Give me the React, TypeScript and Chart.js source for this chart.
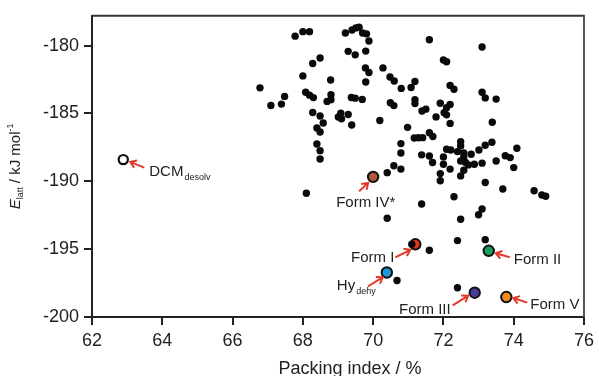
import React, { useEffect, useRef } from "react";
import { Chart, registerables } from "chart.js";

Chart.register(...registerables);

// Predicted structures (black dots): packing index (%) and lattice energy (kJ/mol)
const packingX = [
  66.78, 67.09, 67.39, 67.48, 67.78, 68.0, 68.19, 69.21, 69.4, 69.51, 69.6, 69.7, 69.81, 69.88, 71.6, 73.1,
  68.49, 68.28, 69.29, 69.49, 69.79, 72.0, 72.09, 68.0, 68.79, 69.78, 69.88, 69.79, 70.28, 70.48, 70.6, 70.8,
  71.08, 71.19, 72.19, 72.3, 73.1, 73.19, 73.5, 68.08, 68.19, 68.3, 68.8, 68.8, 68.69, 69.38, 69.49, 69.69,
  70.49, 70.59, 71.19, 71.19, 71.39, 71.5, 71.91, 72.19, 72.09, 72.02, 72.09, 71.79, 72.19, 73.39, 68.28, 68.49,
  68.58, 69.01, 69.1, 69.08, 69.29, 69.39, 70.19, 70.98, 68.4, 68.49, 71.17, 71.29, 71.41, 71.6, 71.7, 68.4,
  68.49, 68.49, 70.79, 70.79, 70.59, 70.79, 70.4, 72.49, 72.49, 72.09, 72.21, 72.4, 72.58, 72.58, 72.79, 73.01,
  73.19, 73.38, 74.09, 71.38, 71.6, 71.69, 72.0, 72.0, 72.49, 72.63, 72.71, 72.88, 73.1, 73.5, 73.76, 73.9,
  74.0, 72.19, 72.58, 72.49, 71.91, 71.91, 73.19, 73.69, 74.58, 74.8, 74.91, 71.38, 72.3, 73.1, 73.0, 72.49,
  68.1, 70.4, 72.4, 73.19, 71.1, 71.6, 70.68, 72.4,
];
const latticeY = [
  -183.11, -184.41, -184.31, -183.74, -179.3, -178.97, -178.97, -179.07, -178.85, -178.69, -178.64, -179.07, -179.13, -179.66, -179.56, -180.1,
  -180.91, -181.32, -180.42, -180.68, -180.4, -181.06, -181.19, -182.23, -182.53, -181.64, -181.98, -182.68, -181.64, -182.31, -182.61, -183.15,
  -183.08, -182.64, -182.93, -183.21, -183.43, -183.85, -183.94, -183.44, -183.65, -183.83, -183.61, -183.98, -184.11, -183.82, -183.87, -183.96,
  -184.21, -184.42, -183.98, -184.27, -184.82, -184.68, -184.24, -184.33, -184.58, -184.95, -185.1, -185.25, -185.73, -185.65, -184.93, -185.19,
  -185.7, -185.26, -185.39, -184.97, -185.07, -185.85, -185.52, -186.02, -186.07, -186.37, -186.81, -186.79, -186.78, -186.42, -186.7, -187.25,
  -187.74, -188.36, -187.22, -187.91, -188.85, -189.1, -189.36, -187.08, -187.39, -187.64, -187.69, -187.81, -187.91, -188.2, -188.0, -187.69,
  -187.34, -187.12, -187.56, -188.05, -188.13, -188.61, -188.2, -188.74, -188.5, -188.61, -188.79, -188.74, -188.66, -188.5, -188.11, -188.25,
  -188.99, -189.1, -189.18, -189.6, -189.43, -189.96, -190.09, -190.57, -190.7, -191.01, -191.1, -191.67, -191.14, -192.04, -192.46, -192.8,
  -190.88, -192.72, -194.37, -194.3, -194.64, -195.08, -197.31, -197.84,
];

// Experimental forms
const formNames = ["Form IV*", "Form I", "Form II", "Hy", "Form III", "Form V"];
const formSubs = ["", "", "", "dehy", "", ""];
const formX = [70.0, 71.2, 73.29, 70.39, 72.89, 73.79];
const formY = [-189.67, -194.64, -195.12, -196.72, -198.21, -198.53];

// Desolvated DCM solvate
const dcmName = "DCM";
const dcmSub = "desolv";
const dcmX = [62.89];
const dcmY = [-188.4];

const xTicks = [62, 64, 66, 68, 70, 72, 74, 76];
const yTicks = [-180, -185, -190, -195, -200];

const FONT = "'Liberation Sans', Arial, sans-serif";
const formColors = ["#b0573a", "#e4341f", "#14a05c", "#1c9ad6", "#4a3a9c", "#f58a1e"];
// label placement in pixels relative to the marker: [arrowHeadDx, headDy, tailDx, tailDy, textDx, textDy, align]
const formLabelPos: [number, number, number, number, number, number, string][] = [
  [-5, 6, -14, 14.5, -37, 30, "left"],
  [-5, 5.5, -20, 13, -21, 17.5, "right"],
  [7, 2.4, 21, 6.4, 25, 13, "left"],
  [-4, 4.7, -19, 14, -50, 18, "left"],
  [-6.5, 3, -22, 12.7, -24, 21, "right"],
  [7, 1, 21, 5.6, 24, 12.3, "left"],
];
const dcmLabelPos: [number, number, number, number, number, number, string] = [7, 2.3, 21, 8, 26, 16.5, "left"];

function drawArrow(ctx: CanvasRenderingContext2D, hx: number, hy: number, tx: number, ty: number) {
  const ang = Math.atan2(hy - ty, hx - tx);
  const len = 7;
  ctx.beginPath();
  ctx.moveTo(tx, ty);
  ctx.lineTo(hx, hy);
  ctx.moveTo(hx - len * Math.cos(ang - 0.6), hy - len * Math.sin(ang - 0.6));
  ctx.lineTo(hx, hy);
  ctx.lineTo(hx - len * Math.cos(ang + 0.6), hy - len * Math.sin(ang + 0.6));
  ctx.stroke();
}

function drawRich(ctx: CanvasRenderingContext2D, main: string, sub: string, x: number, y: number, align: string) {
  ctx.font = `15px ${FONT}`;
  const w1 = ctx.measureText(main).width;
  ctx.font = `9px ${FONT}`;
  const w2 = sub ? ctx.measureText(sub).width + 1 : 0;
  const start = align === "right" ? x - (w1 + w2) : x;
  ctx.textAlign = "left";
  ctx.textBaseline = "alphabetic";
  ctx.font = `15px ${FONT}`;
  ctx.fillText(main, start, y);
  if (sub) {
    ctx.font = `9px ${FONT}`;
    ctx.fillText(sub, start + w1 + 1, y + 4);
  }
}

const annotPlugin = {
  id: "annot",
  afterDatasetsDraw(chart: any) {
    const { ctx, chartArea: ca, scales } = chart;
    const xs = scales.x;
    const ys = scales.y;
    ctx.save();
    // frame
    ctx.lineWidth = 2;
    ctx.strokeStyle = "#333";
    ctx.beginPath();
    ctx.moveTo(ca.left, ca.top);
    ctx.lineTo(ca.right, ca.top);
    ctx.stroke();
    ctx.strokeStyle = "#555";
    ctx.beginPath();
    ctx.moveTo(ca.right, ca.top - 1);
    ctx.lineTo(ca.right, ca.bottom);
    ctx.stroke();

    // annotations
    ctx.strokeStyle = "#e0392a";
    ctx.lineWidth = 2;
    ctx.fillStyle = "#222";
    formNames.forEach((name, i) => {
      const px = xs.getPixelForValue(formX[i]);
      const py = ys.getPixelForValue(formY[i]);
      const p = formLabelPos[i];
      drawArrow(ctx, px + p[0], py + p[1], px + p[2], py + p[3]);
      drawRich(ctx, name, formSubs[i], px + p[4], py + p[5], p[6]);
    });
    {
      const px = xs.getPixelForValue(dcmX[0]);
      const py = ys.getPixelForValue(dcmY[0]);
      const p = dcmLabelPos;
      drawArrow(ctx, px + p[0], py + p[1], px + p[2], py + p[3]);
      drawRich(ctx, dcmName, dcmSub, px + p[4], py + p[5], p[6]);
    }

    // x axis title
    ctx.fillStyle = "#222";
    ctx.font = `18px ${FONT}`;
    ctx.textAlign = "center";
    ctx.textBaseline = "alphabetic";
    ctx.fillText("Packing index / %", (ca.left + ca.right) / 2 + 12, 374);

    // y axis title (rotated, with sub/superscripts)
    ctx.translate(19.5, (ca.top + ca.bottom) / 2);
    ctx.rotate(-Math.PI / 2);
    const parts = [
      { t: "E", f: `italic 15px ${FONT}`, dy: 0 },
      { t: "latt", f: `9px ${FONT}`, dy: 3.5 },
      { t: " / kJ mol", f: `15px ${FONT}`, dy: 0 },
      { t: "-1", f: `9px ${FONT}`, dy: -6.5 },
    ];
    let total = 0;
    const widths = parts.map((pt) => {
      ctx.font = pt.f;
      const w = ctx.measureText(pt.t).width;
      total += w;
      return w;
    });
    let cx = -total / 2;
    ctx.textAlign = "left";
    parts.forEach((pt, i) => {
      ctx.font = pt.f;
      ctx.fillText(pt.t, cx, pt.dy);
      cx += widths[i];
    });
    ctx.restore();
  },
};

export default function App() {
  const ref = useRef<HTMLCanvasElement>(null);
  useEffect(() => {
    document.body.style.margin = "0";
    const canvas = ref.current!;
    const chart = new Chart(canvas, {
      type: "scatter",
      data: {
        datasets: [
          {
            label: "predicted",
            data: packingX.map((x, i) => ({ x, y: latticeY[i] })),
            pointRadius: 3.7,
            pointBackgroundColor: "#0a0a0a",
            pointBorderWidth: 0,
          },
          ...formNames.map((n, i) => ({
            label: n,
            data: [{ x: formX[i], y: formY[i] }],
            pointRadius: 5.2,
            pointBackgroundColor: formColors[i],
            pointBorderColor: "#111",
            pointBorderWidth: 2,
          })),
          {
            label: "DCM",
            data: dcmX.map((x, i) => ({ x, y: dcmY[i] })),
            pointRadius: 4.6,
            pointBackgroundColor: "#ffffff",
            pointBorderColor: "#111",
            pointBorderWidth: 2.2,
          },
        ],
      },
      options: {
        animation: false,
        responsive: false,
        devicePixelRatio: 1,
        layout: { padding: { top: 15, right: 11, left: 0, bottom: 0 } },
        plugins: { legend: { display: false }, tooltip: { enabled: false } },
        scales: {
          x: {
            type: "linear",
            min: xTicks[0],
            max: xTicks[xTicks.length - 1],
            afterBuildTicks: (s: any) => {
              s.ticks = xTicks.map((v) => ({ value: v }));
            },
            afterFit: (s: any) => {
              s.height = 59;
            },
            ticks: { font: { family: FONT, size: 18 }, color: "#222", padding: 5 },
            grid: { drawOnChartArea: false, drawTicks: true, tickLength: 8, color: "#222", lineWidth: 2 },
            border: { display: true, color: "#222", width: 2 },
          },
          y: {
            type: "linear",
            min: -200,
            max: -177.8,
            afterBuildTicks: (s: any) => {
              s.ticks = yTicks.map((v) => ({ value: v }));
            },
            afterFit: (s: any) => {
              s.width = 92;
            },
            ticks: { font: { family: FONT, size: 18 }, color: "#222", padding: 5 },
            grid: { drawOnChartArea: false, drawTicks: true, tickLength: 8, color: "#222", lineWidth: 2 },
            border: { display: true, color: "#222", width: 2 },
          },
        },
      },
      plugins: [annotPlugin],
    });
    return () => chart.destroy();
  }, []);
  return (
    <div style={{ width: 599, height: 376, background: "#fff" }}>
      <canvas ref={ref} width={599} height={376} style={{ width: 599, height: 376, display: "block" }} />
    </div>
  );
}
